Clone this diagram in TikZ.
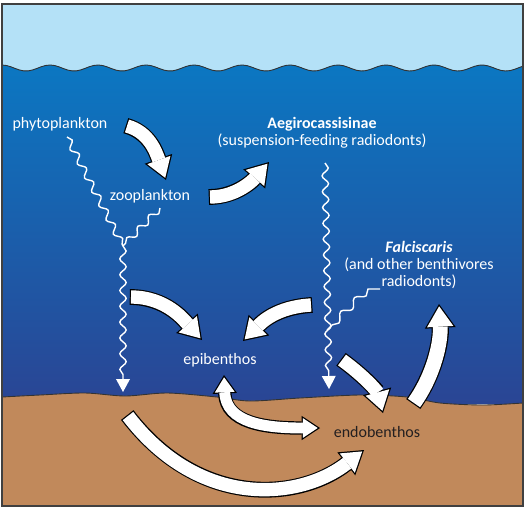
\documentclass[tikz,border=0pt]{standalone}
\usepackage{fontspec}
\setmainfont{Carlito}
\usetikzlibrary{arrows.meta,decorations.pathmorphing}

\definecolor{skyblue}{HTML}{B4E1F7}
\definecolor{seatop}{HTML}{0B77C2}
\definecolor{seabottom}{HTML}{2A4594}
\definecolor{sediment}{HTML}{C1895B}
\definecolor{textdark}{HTML}{231F20}

\begin{document}
\begin{tikzpicture}[x=0.02cm,y=-0.02cm,
organism/.style={text=white, font=\fontsize{9.1}{9.6}\selectfont, align=center, inner sep=0pt},
flow/.style={draw=white, line width=7.6pt, -{Triangle[length=10.8pt,width=14pt,line width=0pt]}, shorten >=1.3pt,
  preaction={draw=black, line width=9pt, -{Triangle[length=12.8pt,width=16.6pt,line width=0pt]}, shorten >=0pt, shorten <=-0.7pt}},
bigflow/.style={draw=white, line width=8.4pt, -{Triangle[length=11.6pt,width=15pt,line width=0pt]}, shorten >=1.3pt,
  preaction={draw=black, line width=9.8pt, -{Triangle[length=13.6pt,width=17.6pt,line width=0pt]}, shorten >=0pt, shorten <=-0.7pt}},
flowboth/.style={draw=white, line width=6.2pt, {Triangle[length=8.5pt,width=11.3pt,line width=0pt]}-{Triangle[length=8.5pt,width=11.3pt,line width=0pt]}, shorten >=1.3pt, shorten <=1.3pt,
  preaction={draw=black, line width=7.6pt, {Triangle[length=10.5pt,width=13.9pt,line width=0pt]}-{Triangle[length=10.5pt,width=13.9pt,line width=0pt]}, shorten >=0pt, shorten <=0pt}},
drift/.style={draw=white, line width=0.8pt, decorate, decoration={snake, segment length=9pt, amplitude=1.8pt}},
sink/.style={drift, -{Triangle[length=7.4pt,width=8pt,line width=0pt]}, decoration={snake, segment length=9pt, amplitude=1.8pt, post length=8pt}}
]
\useasboundingbox (0,0) rectangle (526,511);
\fill[white] (0,0) rectangle (526,511);
\fill[skyblue] (2,4) rectangle (523,72);
\fill[top color=seatop, bottom color=seabottom] plot[domain=2:523,samples=120] (\x,{68-3*cos(7.5*(\x-2))}) -- (523,404) -- (2,404) -- cycle;
\draw[line width=0.5pt, black!80] plot[domain=2:523,samples=120] (\x,{68-3*cos(7.5*(\x-2))});
\fill[sediment] (2,506) -- plot[smooth] coordinates {(2,397) (40,395) (85,393) (125,396) (167,393) (217,397) (250,401) (300,398) (360,395) (407,397) (440,403) (483,405) (523,403)} -- (523,506) -- cycle;
\draw[line width=0.5pt, black!80] plot[smooth] coordinates {(2,397) (40,395) (85,393) (125,396) (167,393) (217,397) (250,401) (300,398) (360,395) (407,397) (440,403) (483,405) (523,403)};

\node[organism] (phyto) at (60,124) {phytoplankton};
\node[organism] (zoo) at (150,196) {zooplankton};
\node[organism] (aegiro) at (322,133) {\textbf{Aegirocassisinae}\\(suspension-feeding radiodonts)};
\node[organism] (falci) at (419,265) {\textbf{\textit{Falciscaris}}\\(and other benthivores\\radiodonts)};
\node[organism] (epi) at (220,360) {epibenthos};
\node[organism, text=textdark] (endo) at (377,432) {endobenthos};

\coordinate (p0) at (67,137);
\coordinate (z0) at (160,208);
\coordinate (j1) at (123,246);
\coordinate (fall1) at (123,392);
\coordinate (s0) at (325,163);
\coordinate (fall2) at (329,389);
\coordinate (f0) at (380,289);
\coordinate (f1) at (368,289);
\coordinate (j2) at (327,330);
\draw[drift] (p0) -- (j1);
\draw[drift] (z0) -- (j1);
\draw[sink] (j1) -- (fall1);
\draw[sink] (s0) -- (fall2);
\draw[draw=white, line width=0.8pt] (f0) -- (f1) decorate[decoration={snake, segment length=11pt, amplitude=2pt}] {-- (j2)};

\coordinate (a1s) at (127,126);
\coordinate (a1e) at (166,180);
\coordinate (a2s) at (210,197);
\coordinate (a2e) at (269,162);
\coordinate (a3s) at (131,297);
\coordinate (a3e) at (202,340);
\coordinate (a4s) at (311,305);
\coordinate (a4e) at (243,341);
\coordinate (a5s) at (224,375);
\coordinate (a5e) at (320,428);
\coordinate (a6s) at (128,416);
\coordinate (a6e) at (364,450);
\coordinate (a7s) at (342,360);
\coordinate (a7e) at (383,413);
\coordinate (a8s) at (414,403);
\coordinate (a8e) at (439,304);
\draw[flow] (a1s) .. controls +(22,6) and +(-10,-28) .. (a1e);
\draw[flow] (a2s) .. controls +(28,0) and +(-14,16) .. (a2e);
\draw[flow] (a3s) .. controls +(35,0) and +(-18,-20) .. (a3e);
\draw[flow] (a4s) .. controls +(-35,2) and +(18,-18) .. (a4e);
\draw[flowboth] (a5s) .. controls +(2,48) and +(-55,0) .. (a5e);
\draw[flow] (a6s) .. controls +(72,94) and +(-64,50) .. (a6e);
\draw[flow] (a7s) .. controls +(22,16) and +(-6,-22) .. (a7e);
\draw[bigflow] (a8s) .. controls +(20,-28) and +(2,38) .. (a8e);

\draw[black!75, line width=0.8pt] (2,4) rectangle (523,506);
\end{tikzpicture}
\end{document}
